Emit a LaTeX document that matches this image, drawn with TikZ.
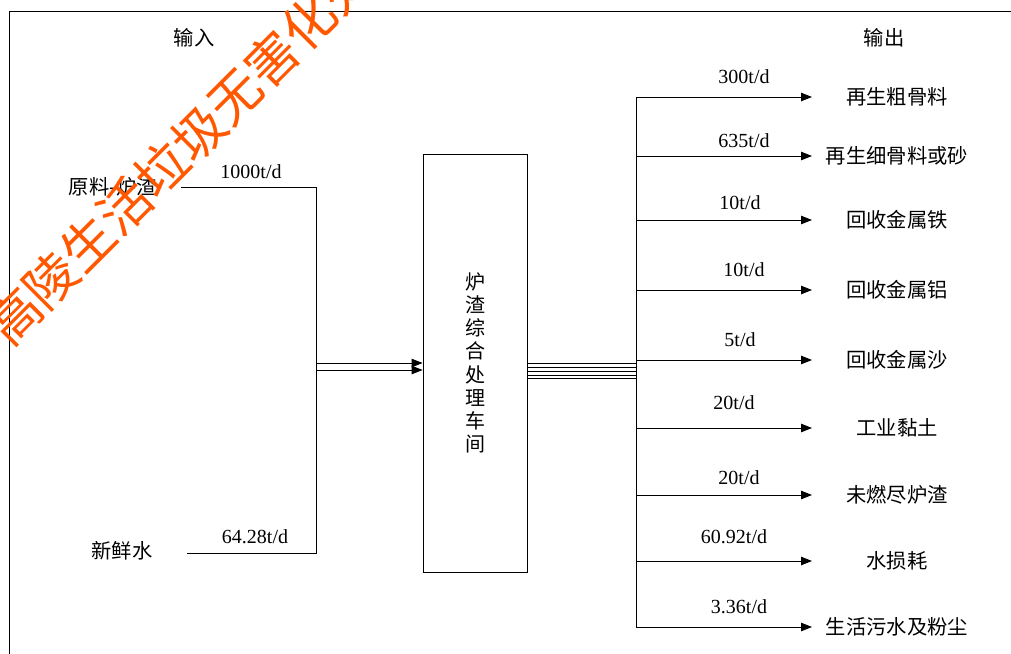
\documentclass[tikz,border=0pt]{standalone}
\usepackage{fontspec}
\setmainfont{Liberation Serif}
\newfontfamily\cjk{Noto Sans CJK SC}
\usetikzlibrary{arrows.meta}
\definecolor{wm}{RGB}{255,88,0}
\begin{document}
\begin{tikzpicture}[x=1pt,y=-1pt,line width=0.9pt,
  num/.style={font=\fontsize{20}{22}\selectfont,inner sep=0pt},
  zh/.style={font=\cjk\fontsize{20.3}{22}\selectfont,inner sep=0pt},
  arr/.style={-{Triangle[length=11pt,width=8.5pt]}},
  outline/.style={draw,line width=0.9pt}]
\useasboundingbox (0,0) rectangle (1011,653);
\clip (0,0) rectangle (1011,653);
% frame
\draw (9,660) -- (9,11) -- (1020,11);
% headings
\node[zh] (in) at (194,38) {输入};
\node[zh] (out) at (884,38) {输出};
% inputs
\node[zh] (raw) at (113,187) {原料-炉渣};
\node[zh] (water) at (122,551) {新鲜水};
\coordinate (r1) at (181,187);
\coordinate (r2) at (316,187);
\coordinate (w1) at (187,553);
\coordinate (w2) at (316,553);
\draw (r1) -- (r2) -- (w2) -- (w1);
\node[num] (q1) at (251,172) {1000t/d};
\node[num] (q2) at (255,537) {64.28t/d};
% central box
\node[outline,minimum width=104pt,minimum height=418pt,inner sep=0pt] (box) at (475,363) {};
\node[font=\cjk\fontsize{20}{23.2}\selectfont,align=center,inner sep=0pt] (boxt) at (475,363) {炉\\渣\\综\\合\\处\\理\\车\\间};
\coordinate (m1) at (316,363);
\coordinate (m2) at (316,370);
\draw[arr] (m1) -- (box.west |- m1);
\draw[arr] (m2) -- (box.west |- m2);
% output bus
\coordinate (bt) at (636,97);
\coordinate (bb) at (636,627);
\draw (bt) -- (bb);
\foreach \yy in {363,367,371,375,378}{
  \draw (box.east |- 0,\yy) -- (636,\yy);
}
% outputs
\foreach \yy/\q/\qx/\qy/\t [count=\i] in {
  97/300/744/77/再生粗骨料,
  156/635/744/141/再生细骨料或砂,
  220/10/740/203/回收金属铁,
  290/10/744/270/回收金属铝,
  360/5/740/340/回收金属沙,
  428/20/734/403/工业黏土,
  495/20/739/478/未燃尽炉渣,
  561/60.92/734/537/水损耗,
  627/3.36/739/607/生活污水及粉尘}{
  \coordinate (s\i) at (636,\yy);
  \node[zh] (o\i) at (897,\yy) {\t};
  \coordinate (e\i) at (812,\yy);
  \draw[arr] (s\i) -- (e\i);
  \node[num] (n\i) at (\qx,\qy) {\q t/d};
}
% watermark
\node[rotate=45,text=wm,font=\cjk\fontsize{52}{52}\selectfont,inner sep=0pt] (wmk) at (180,151) {高陵生活垃圾无害化处};
\end{tikzpicture}
\end{document}
